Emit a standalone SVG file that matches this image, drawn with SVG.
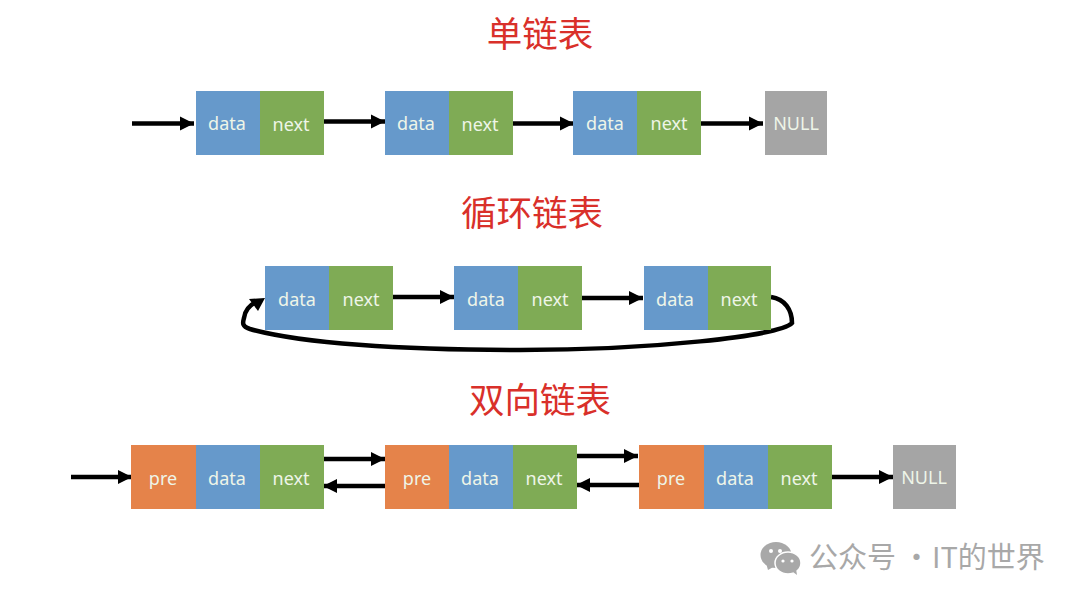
<svg xmlns="http://www.w3.org/2000/svg" width="1080" height="602" viewBox="0 0 1080 602">
<style>
.d{fill:#6699cb}.n{fill:#7fab55}.p{fill:#e5834a}.g{fill:#a5a5a5}
.l{font-family:"Noto Sans","Liberation Sans",sans-serif;font-size:18px;fill:#eef5e8;text-anchor:middle}
.t{font-family:"Noto Sans CJK SC",sans-serif;font-size:35.500px;fill:#d9302a;text-anchor:middle}
.c{fill:none;stroke:#000;stroke-width:4.500}
.w{font-family:"Noto Sans CJK SC",sans-serif;font-size:29px;fill:#a8a8a8}
</style>
<defs>
<marker id="a" markerUnits="userSpaceOnUse" markerWidth="16" markerHeight="16" refX="14" refY="8" orient="auto"><path d="M0 1L14 8L0 15Z" fill="#000"/></marker>
</defs>
<rect width="1080" height="602" fill="#fff"/>
<g id="titles">
<text class="t" x="540" y="47">单链表</text>
<text class="t" x="532" y="226">循环链表</text>
<text class="t" x="540" y="413">双向链表</text>
</g>
<g id="connectors">
<path class="c" marker-end="url(#a)" d="M132 123.500H194"/>
<path class="c" marker-end="url(#a)" d="M324 121.500H385"/>
<path class="c" marker-end="url(#a)" d="M513 123.500H574"/>
<path class="c" marker-end="url(#a)" d="M701 123.500H763"/>
<path class="c" marker-end="url(#a)" d="M393 297H454"/>
<path class="c" marker-end="url(#a)" d="M582 298H643"/>
<path class="c" stroke-width="5" d="M771 297C785 299 792 310 792 323C780 336 650 350 520 350C400 350 300 343 250 329C241 326 243 322 244 318C245 310 250 305 256 302"/>
<path d="M265 298L249 299L258 311Z" fill="#000"/>
<path class="c" marker-end="url(#a)" d="M71 477H132"/>
<path class="c" marker-end="url(#a)" d="M324 459H385"/>
<path class="c" marker-end="url(#a)" d="M385 486H323"/>
<path class="c" marker-end="url(#a)" d="M577 456H638"/>
<path class="c" marker-end="url(#a)" d="M639 485H576"/>
<path class="c" marker-end="url(#a)" d="M832 477H893"/>
</g>
<g id="r1n1"><rect class="d" x="196" y="91" width="64" height="64"/><rect class="n" x="260" y="91" width="64" height="64"/><text class="l" x="227" y="130">data</text><text class="l" x="291" y="131">next</text></g>
<g id="r1n2"><rect class="d" x="385" y="91" width="64" height="64"/><rect class="n" x="449" y="91" width="64" height="64"/><text class="l" x="416" y="130">data</text><text class="l" x="480" y="131">next</text></g>
<g id="r1n3"><rect class="d" x="573" y="91" width="64" height="64"/><rect class="n" x="637" y="91" width="64" height="64"/><text class="l" x="605" y="130">data</text><text class="l" x="669" y="130">next</text></g>
<g id="r1null"><rect class="g" x="765" y="91" width="62" height="64"/><text class="l" x="796" y="130">NULL</text></g>
<g id="r2n1"><rect class="d" x="265" y="266" width="64" height="64"/><rect class="n" x="329" y="266" width="64" height="64"/><text class="l" x="297" y="306">data</text><text class="l" x="361" y="306">next</text></g>
<g id="r2n2"><rect class="d" x="454" y="266" width="64" height="64"/><rect class="n" x="518" y="266" width="64" height="64"/><text class="l" x="486" y="306">data</text><text class="l" x="550" y="306">next</text></g>
<g id="r2n3"><rect class="d" x="644" y="266" width="64" height="64"/><rect class="n" x="708" y="266" width="63" height="64"/><text class="l" x="675" y="306">data</text><text class="l" x="739" y="306">next</text></g>
<g id="r3n1"><rect class="p" x="131" y="445" width="65" height="64"/><rect class="d" x="196" y="445" width="64" height="64"/><rect class="n" x="260" y="445" width="64" height="64"/><text class="l" x="163" y="485">pre</text><text class="l" x="227" y="485">data</text><text class="l" x="291" y="485">next</text></g>
<g id="r3n2"><rect class="p" x="385" y="445" width="64" height="64"/><rect class="d" x="449" y="445" width="64" height="64"/><rect class="n" x="513" y="445" width="64" height="64"/><text class="l" x="417" y="485">pre</text><text class="l" x="480" y="485">data</text><text class="l" x="544" y="485">next</text></g>
<g id="r3n3"><rect class="p" x="639" y="445" width="65" height="64"/><rect class="d" x="704" y="445" width="64" height="64"/><rect class="n" x="768" y="445" width="64" height="64"/><text class="l" x="671" y="485">pre</text><text class="l" x="735" y="485">data</text><text class="l" x="799" y="485">next</text></g>
<g id="r3null"><rect class="g" x="893" y="445" width="63" height="64"/><text class="l" x="924" y="484">NULL</text></g>
<g id="watermark">
<ellipse cx="776" cy="555" rx="15.500" ry="13" fill="#a8a8a8"/><path d="M766 563L768 570L775 566Z" fill="#a8a8a8"/>
<ellipse cx="788" cy="563" rx="13" ry="11" fill="#a8a8a8" stroke="#fff" stroke-width="1.500"/><path d="M793 572L797 575L796 569Z" fill="#a8a8a8"/>
<circle cx="771" cy="551" r="2" fill="#fff"/><circle cx="780" cy="551" r="2" fill="#fff"/><circle cx="783" cy="561" r="1.600" fill="#fff"/><circle cx="792" cy="561" r="1.600" fill="#fff"/>
<text class="w" x="902" y="568">·</text>
<text class="w" x="809" y="568">公众号</text>
<text class="w" x="932" y="568">IT的世界</text>
</g>
</svg>
